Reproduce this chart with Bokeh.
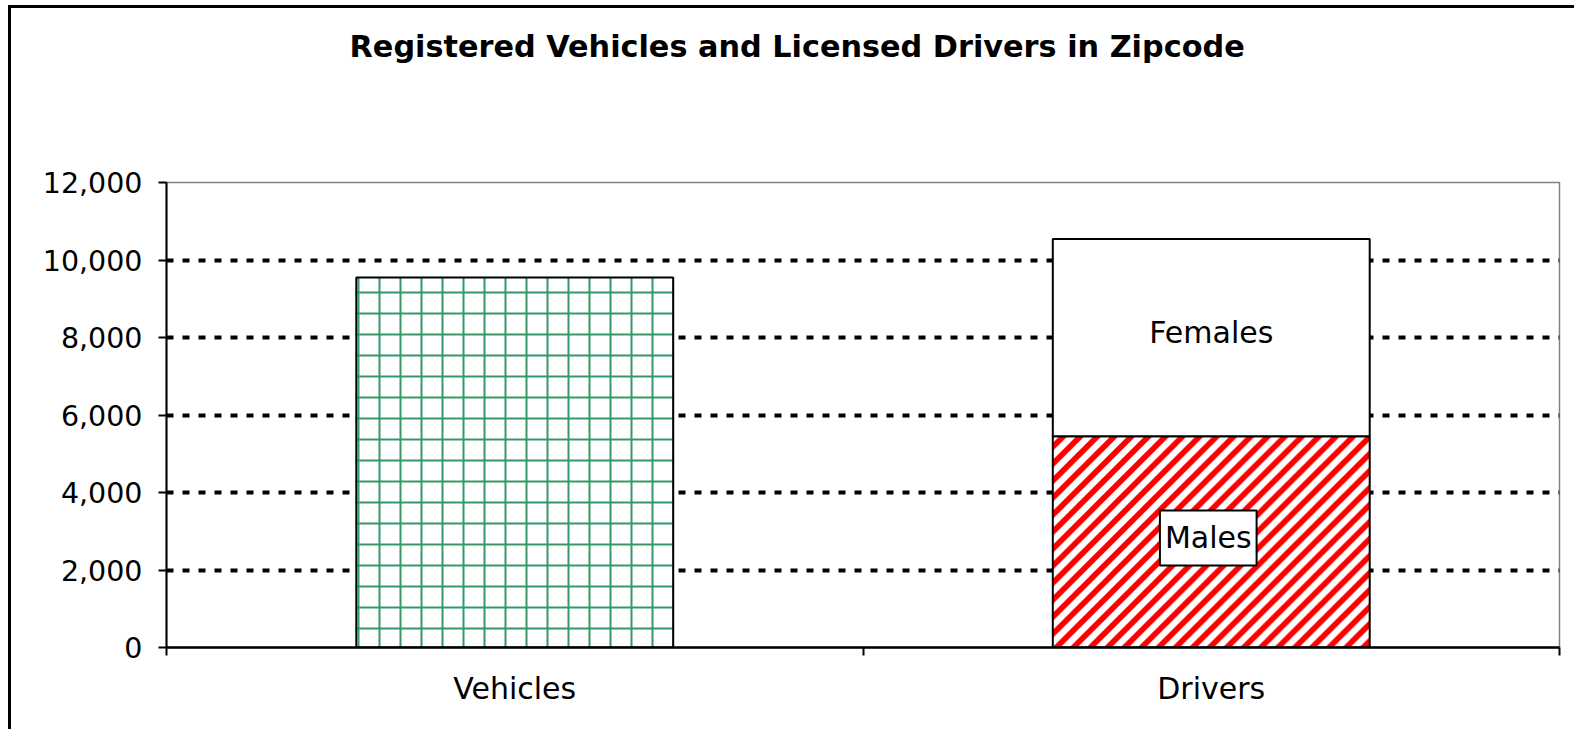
import numpy as np
from bokeh.plotting import figure
from bokeh.models import (ColumnDataSource, Range1d, LinearAxis, Title,
                          FixedTicker, NumeralTickFormatter)
from bokeh.core.properties import value
from bokeh.embed import file_html
from bokeh.resources import INLINE

title_text = "Registered Vehicles and Licensed Drivers in Zipcode"
categories = ["Vehicles", "Drivers"]
vehicles = [9550]
males = [5450]
females = [5090]
segment_labels = ["Males", "Females"]
y_ticks = [0, 2000, 4000, 6000, 8000, 10000, 12000]
y_max = 12000

FONT = "DejaVu Sans"
BAR_W = 0.455

# layout constants
W, H = 1566, 724
MB_L, MB_R, MB_T, MB_B = 155, 18, 174, 85
FRAME_W, FRAME_H = W - MB_L - MB_R, H - MB_T - MB_B

n = len(categories)
centres = [i + 0.5 for i in range(n)]   # category slot centres on a 0..n axis

p = figure(width=W, height=H,
           x_range=Range1d(0, n), y_range=Range1d(0, y_max),
           output_backend="svg", toolbar_location=None,
           x_axis_location=None, y_axis_location="left",
           min_border_left=MB_L, min_border_right=MB_R, min_border_top=MB_T, min_border_bottom=MB_B)
p.styles = {"border-left": "3px solid #000000", "border-top": "3px solid #000000",
            "margin-left": "8px", "margin-top": "5px"}
p.background_fill_color = "white"
p.border_fill_color = "white"
p.outline_line_color = "#808080"
p.outline_line_width = 1.5

# title (outermost), with an empty spacer title between it and the plot area
p.title.text = title_text
p.title.text_font = FONT
p.title.text_font_size = "30.3px"
p.title.text_font_style = "bold"
p.title.text_color = "black"
p.title.align = "left"
p.title.offset = 183
p.title.standoff = 0
p.add_layout(Title(text=" ", text_font=FONT, text_font_size="30.3px", text_font_style="bold",
                   standoff=82), "above")

# y axis
ya = p.yaxis[0]
ya.ticker = FixedTicker(ticks=y_ticks)
ya.formatter = NumeralTickFormatter(format="0,0")
ya.major_label_text_font = FONT
ya.major_label_text_font_size = "28.5px"
ya.major_label_text_color = "black"
ya.axis_line_color = "black"
ya.axis_line_width = 2
ya.major_tick_line_color = "black"
ya.major_tick_line_width = 2
ya.major_tick_out = 8
ya.major_tick_in = 0
ya.minor_tick_line_color = None
ya.major_label_standoff = 16

p.xgrid.grid_line_color = None
p.ygrid.grid_line_color = "black"
p.ygrid.grid_line_width = 4
p.ygrid.grid_line_dash = "7 9"

# x axis: tick marks at category boundaries, labels at category centres
bound_axis = LinearAxis(ticker=FixedTicker(ticks=list(range(n + 1))),
                        axis_line_color="black", axis_line_width=2.5,
                        major_tick_line_color="black", major_tick_line_width=2,
                        major_tick_out=8, major_tick_in=0,
                        minor_tick_line_color=None,
                        major_label_text_font_size="1px", major_label_text_alpha=0,
                        major_label_standoff=0)
p.add_layout(bound_axis, "below")
cat_axis = LinearAxis(ticker=FixedTicker(ticks=centres),
                      major_label_overrides={c: name for c, name in zip(centres, categories)},
                      axis_line_color=None, major_tick_line_color=None,
                      minor_tick_line_color=None,
                      major_label_text_font=FONT, major_label_text_font_size="30px",
                      major_label_text_color="black", major_label_standoff=9)
p.add_layout(cat_axis, "below")

# bars
veh_src = ColumnDataSource(dict(x=centres[:1], top=vehicles))
p.vbar(x="x", top="top", width=BAR_W, source=veh_src,
       fill_color="white", line_color="black", line_width=2,
       hatch_pattern="+", hatch_color="#339966", hatch_weight=2, hatch_scale=21)

totals = [m + f for m, f in zip(males, females)]
drv_src = ColumnDataSource(dict(x=centres[1:], males=males, females=females, total=totals,
                                mid_f=[m + f / 2 for m, f in zip(males, females)],
                                mid_m=[m / 2 for m in males]))

# 45-degree red "wide upward diagonal" fill for the Males segment, as a pixel image
# sized to the segment's on-screen size so the stripes stay at 45 degrees
img_w = int(round(BAR_W / n * FRAME_W))
img_h = int(round(males[0] / y_max * FRAME_H))
cols = np.arange(img_w)[None, :]
rows = np.arange(img_h)[:, None]
red_px = ((cols - rows) % 17) < 8
img = np.where(red_px, np.uint32(0xFF0000FF), np.uint32(0xFFFFFFFF)).astype(np.uint32)
p.image_rgba(image=[img], x=[centres[1] - BAR_W / 2], y=[0], dw=[BAR_W], dh=[males[0]])

p.vbar(x="x", bottom=0, top="males", width=BAR_W, source=drv_src,
       fill_color=None, line_color="black", line_width=2)
p.vbar(x="x", bottom="males", top="total", width=BAR_W, source=drv_src,
       fill_color="white", line_color="black", line_width=2)

p.text(x="x", y="mid_f", text=value(segment_labels[1]), source=drv_src,
       text_font=value(FONT), text_font_size="30px", text_color="black",
       text_align="center", text_baseline="middle", y_offset=-5)

p.text(x="x", y="mid_m", text=value(segment_labels[0]), source=drv_src,
       text_font=value(FONT), text_font_size="30px", text_color="black",
       text_align="center", text_baseline="middle", x_offset=-3, y_offset=-4,
       background_fill_color="white", border_line_color="black",
       border_line_width=2, padding=(5, 10))

open("out.html", "w").write(file_html(p, INLINE))
